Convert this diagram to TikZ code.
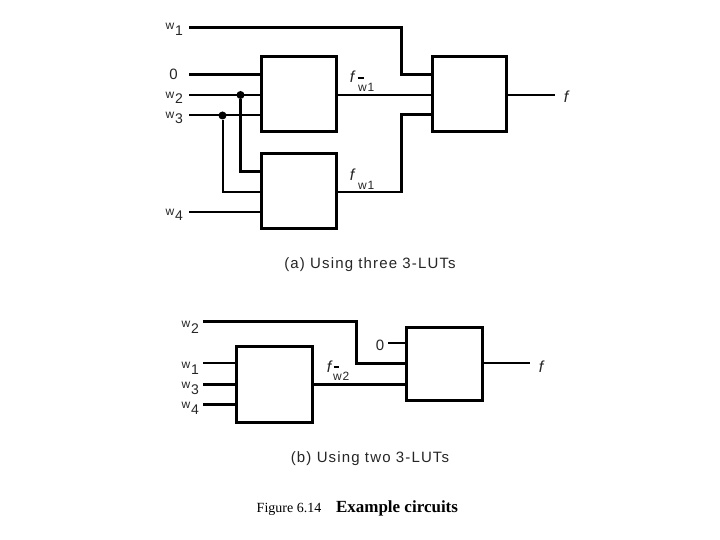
\documentclass[tikz,border=0pt]{standalone}
\usepackage{fontspec}
\setmainfont{Liberation Sans}
\newfontfamily\serifcap{Liberation Serif}
\begin{document}
\begin{tikzpicture}[x=1pt,y=-1pt,
  lut/.style={draw=black,line width=3pt,fill=white,rectangle,inner sep=0pt,outer sep=0pt},
  thick3/.style={line width=3pt},
  thin2/.style={line width=2pt},
  lab/.style={font=\fontsize{15}{17}\selectfont,inner sep=0pt,anchor=base,text=black!85},
  wlab/.style={font=\fontsize{12}{14}\selectfont,inner sep=0pt,anchor=base,text=black!85},
  sub/.style={font=\fontsize{14}{16}\selectfont,inner sep=0pt,anchor=base,text=black!85},
  subs/.style={font=\fontsize{12}{14}\selectfont,inner sep=0pt,anchor=base,text=black!85},
  ital/.style={font=\fontsize{16}{18}\selectfont\itshape,inner sep=0pt,anchor=base,text=black!85},
  jdot/.style={circle,fill=black,inner sep=0pt,minimum size=8pt}]
\useasboundingbox (0,0) rectangle (720,540);
\fill[white] (0,0) rectangle (720,540);
% free ends
\coordinate (aw1) at (189,28);
\coordinate (a0) at (189,75);
\coordinate (aw2) at (189,95);
\coordinate (aw3) at (189,115);
\coordinate (aw4) at (189,212);
\coordinate (af) at (555,95);
\coordinate (bw2) at (203,321);
\coordinate (bw1) at (203,363);
\coordinate (bw3) at (203,384);
\coordinate (bw4) at (203,404);
\coordinate (b0) at (388,343);
\coordinate (bf) at (530,363);
\node[jdot] (j2) at (240.5,95) {};
\node[jdot] (j3) at (222.5,115.5) {};
% boxes
\node[lut,minimum width=75pt,minimum height=75pt] (A1) at (298.5,94.5) {};
\node[lut,minimum width=75pt,minimum height=75pt] (A2) at (298.5,191.5) {};
\node[lut,minimum width=74pt,minimum height=75pt] (A3) at (469,94.5) {};
\node[lut,minimum width=76pt,minimum height=76pt] (B1) at (274,384) {};
\node[lut,minimum width=76pt,minimum height=73pt] (B2) at (444,363.5) {};
% wires (a)
\draw[thick3] (aw1) -| (401,75) -- (A3.west |- 0,75);
\draw[thick3] (a0) -- (A1.west |- a0);
\draw[thin2] (aw2) -- (A1.west |- aw2);
\draw[thin2] (aw3) -- (A1.west |- aw3);
\draw[thick3] (j2) |- (A2.west |- 0,172);
\draw[thin2] (j3) |- (A2.west |- 0,192);
\draw[thin2] (aw4) -- (A2.west |- aw4);
\draw[thin2] (A1.east |- 0,95) -- (A3.west |- 0,95);
\draw[thin2] (A2.east |- 0,192) -- (402,192);
\draw[thick3] (401,193) -- (401,114.5) -- (A3.west |- 0,114.5);
\draw[thin2] (A3.east |- af) -- (af);
% wires (b)
\draw[thick3] (bw2) -| (356,363) -- (B2.west |- 0,363);
\draw[thin2] (bw1) -- (B1.west |- bw1);
\draw[thick3] (bw3) -- (B1.west |- bw3);
\draw[thick3] (bw4) -- (B1.west |- bw4);
\draw[thick3] (B1.east |- 0,384) -- (B2.west |- 0,384);
\draw[thin2] (b0) -- (B2.west |- b0);
\draw[thin2] (B2.east |- bf) -- (bf);
% labels (a)
\node[wlab] (tw1) at (170,30) {w};  \node[sub] (tw1s) at (179,36) {1};
\node[lab] (t0) at (173.5,79.5) {0};
\node[wlab] (tw2) at (170,98.5) {w};  \node[sub] (tw2s) at (179,104) {2};
\node[wlab] (tw3) at (170,118.5) {w}; \node[sub] (tw3s) at (179,124) {3};
\node[wlab] (tw4) at (170,215) {w}; \node[sub] (tw4s) at (179,221) {4};
\node[ital] (fa1) at (352,83) {f};
\node[subs] (fa1w) at (362.5,91.5) {w}; \node[subs] (fa1s) at (371,91.5) {1};
\draw[line width=2pt] (357.5,78) -- (363.5,78);
\node[ital] (fa2) at (352,181) {f};
\node[subs] (fa2w) at (362.5,189.5) {w}; \node[subs] (fa2s) at (371,189.5) {1};
\node[ital] (fout) at (566,103) {f};
\node[lab] (capa) at (370,268.5) {\addfontfeatures{LetterSpace=7.6}(a) Using three 3-LUTs};
% labels (b)
\node[wlab] (tb2) at (186,327) {w};  \node[sub] (tb2s) at (195,333) {2};
\node[wlab] (tb1) at (186,368) {w};  \node[sub] (tb1s) at (195,374) {1};
\node[wlab] (tb3) at (186,388) {w};  \node[sub] (tb3s) at (195,394) {3};
\node[wlab] (tb4) at (186,408) {w};  \node[sub] (tb4s) at (195,414) {4};
\node[lab] (tb0) at (380,350) {0};
\node[ital] (fb) at (329,372) {f};
\node[subs] (fbw) at (337.5,380) {w}; \node[subs] (fbs) at (346,380) {2};
\draw[line width=2pt] (333.5,367) -- (339,367);
\node[ital] (fbout) at (541,372) {f};
\node[lab] (capb) at (370,462.5) {\addfontfeatures{LetterSpace=7.6}(b) Using two 3-LUTs};
% caption
\node[inner sep=0pt,anchor=base] (cap1) at (289,512) {\serifcap\fontsize{14}{16}\selectfont Figure 6.14};
\node[inner sep=0pt,anchor=base] (cap2) at (397,512) {\serifcap\bfseries\fontsize{17}{20}\selectfont Example circuits};
\end{tikzpicture}
\end{document}
